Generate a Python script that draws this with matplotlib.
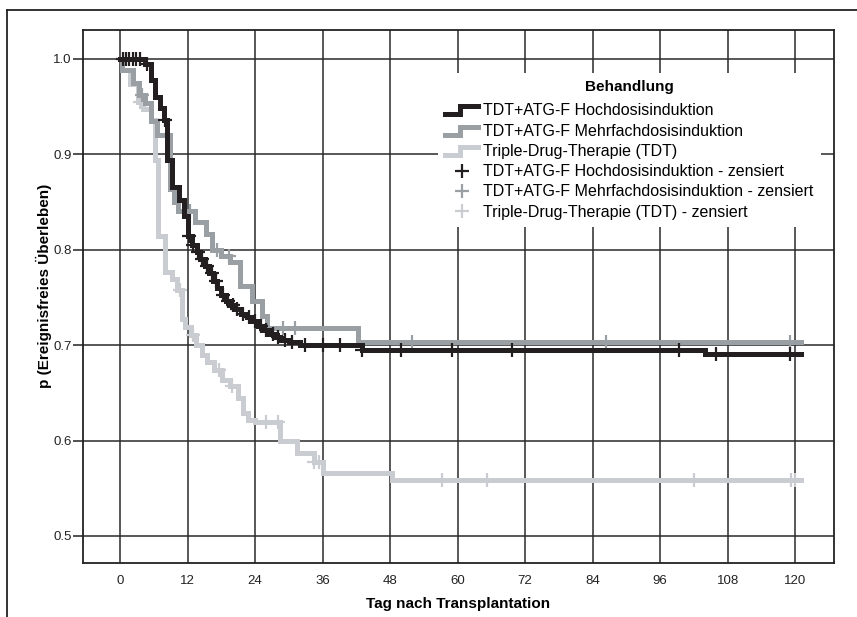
import numpy as np
import matplotlib
matplotlib.use('Agg')
import matplotlib.pyplot as plt
from matplotlib.lines import Line2D
from matplotlib.legend_handler import HandlerBase

plt.rcParams['font.family'] = ['Liberation Sans', 'DejaVu Sans']

# Kaplan-Meier steps (day, survival) per treatment group
hoch_t = [0, 4.5, 5.4, 6.2, 7.0, 7.8, 8.3, 9.3, 10.4, 11.3, 12.0, 12.8, 13.6,
          14.2, 15.0, 15.8, 16.5, 17.2, 18.0, 18.8, 19.6, 20.5, 21.5, 22.5,
          23.5, 24.5, 25.5, 26.5, 27.5, 28.5, 30.0, 32.0, 43.0, 104.0]
hoch_p = [1.0, 0.994, 0.978, 0.96, 0.948, 0.936, 0.894, 0.866, 0.852, 0.835,
          0.814, 0.805, 0.797, 0.79, 0.783, 0.775, 0.767, 0.76, 0.752, 0.746,
          0.742, 0.738, 0.733, 0.729, 0.725, 0.72, 0.716, 0.712, 0.708, 0.705,
          0.703, 0.70, 0.695, 0.691]
hoch_cens = [0.5, 1.0, 1.6, 2.2, 2.8, 3.5, 4.8, 8.0, 12.2, 13.0, 13.8, 14.6,
             15.5, 16.3, 17.1, 18.3, 19.1, 20.0, 20.8, 21.8, 22.9, 24.0, 25.0,
             26.0, 27.2, 28.0, 29.3, 30.5, 32.9, 36.0, 39.0, 43.0, 50.0, 59.0,
             69.7, 99.4, 106.0, 119.0]

mehr_t = [0, 0.3, 2.3, 3.3, 4.4, 5.5, 6.6, 8.8, 9.6, 10.2, 13.3, 15.3, 16.3,
          18.0, 19.5, 21.3, 23.5, 25.2, 26.1, 42.3]
mehr_p = [1.0, 0.988, 0.975, 0.962, 0.954, 0.935, 0.92, 0.863, 0.85, 0.84,
          0.829, 0.816, 0.80, 0.793, 0.787, 0.762, 0.746, 0.73, 0.718, 0.703]
mehr_cens = [3.9, 12.5, 17.2, 19.3, 29.0, 31.1, 51.9, 86.4, 119.0]

tdt_t = [0, 0.3, 1.8, 3.2, 4.1, 5.5, 6.2, 6.8, 8.0, 9.2, 10.1, 11.0, 11.6,
         12.6, 13.5, 14.6, 15.5, 16.6, 18.1, 19.6, 21.0, 21.9, 22.8, 24.0,
         28.4, 31.4, 34.4, 36.1, 48.3]
tdt_p = [1.0, 0.988, 0.973, 0.955, 0.947, 0.936, 0.894, 0.814, 0.777, 0.769,
         0.758, 0.727, 0.719, 0.71, 0.70, 0.69, 0.682, 0.674, 0.663, 0.657,
         0.645, 0.629, 0.622, 0.619, 0.60, 0.587, 0.577, 0.566, 0.559]
tdt_cens = [3.6, 10.7, 13.0, 17.5, 19.8, 26.0, 28.0, 34.4, 35.3, 57.2, 65.2,
            102.0, 119.3, 120.0]

t_end = 121
labels = ['TDT+ATG-F Hochdosisinduktion', 'TDT+ATG-F Mehrfachdosisinduktion',
          'Triple-Drug-Therapie (TDT)']
colors = ['#231f20', '#9a9fa4', '#c9ccd1']

xticks = np.arange(0, 121, 12)
yticks = [0.5, 0.6, 0.7, 0.8, 0.9, 1.0]


def surv_at(t, p, x):
    idx = np.searchsorted(t, x, side='right') - 1
    return np.asarray(p)[idx]


class StepHandler(HandlerBase):
    def create_artists(self, legend, orig, xd, yd, w, h, fontsize, trans):
        xs = [-xd, -xd + 0.45 * w, -xd + 0.45 * w, -xd + w]
        ys = [-yd + 0.1 * h, -yd + 0.1 * h, -yd + 0.8 * h, -yd + 0.8 * h]
        ln = Line2D(xs, ys, color=orig.get_color(), lw=orig.get_linewidth(),
                    solid_joinstyle='miter', transform=trans)
        return [ln]


fig = plt.figure(figsize=(8.57, 6.17), dpi=100)
ax = fig.add_axes([83 / 857, 1 - 563 / 617, 751 / 857, 533 / 617])

groups = [(hoch_t, hoch_p, hoch_cens), (mehr_t, mehr_p, mehr_cens),
          (tdt_t, tdt_p, tdt_cens)]
step_handles = []
cens_handles = []
for i in [2, 1, 0]:
    t, p, cens = groups[i]
    tt = list(t) + [t_end]
    pp = list(p) + [p[-1]]
    ln, = ax.step(tt, pp, where='post', color=colors[i], lw=3.6,
                  solid_joinstyle='miter', zorder=3 + (2 - i))
    cy = surv_at(t, p, cens)
    mk, = ax.plot(cens, cy, ls='none', marker='+', ms=10, mew=1.6,
                  color=colors[i], zorder=3 + (2 - i))
    step_handles.insert(0, ln)
    cens_handles.insert(0, mk)

ax.set_xlim(-6.6, 126.9)
ax.set_ylim(0.4717, 1.030)
ax.set_xticks(xticks)
ax.set_yticks(yticks)
ax.set_yticklabels(['%.1f' % v for v in yticks])
ax.grid(True, color='#2a2a2a', lw=1.1, zorder=1)
ax.set_axisbelow(True)
ax.tick_params(axis='x', length=0, pad=9, labelsize=9.5, colors='#222222')
ax.tick_params(axis='y', length=7, width=1.1, pad=1, labelsize=9.5,
               colors='#222222')
for s in ax.spines.values():
    s.set_linewidth(1.3)
    s.set_color('#222222')

ax.set_xlabel('Tag nach Transplantation', fontsize=11, fontweight='bold',
              labelpad=7)
ax.set_ylabel('p (Ereignisfreies Überleben)', fontsize=11, fontweight='bold')
ax.yaxis.set_label_coords(-0.041, 0.52)

handles = step_handles + cens_handles
leg_labels = labels + [l + ' - zensiert' for l in labels]
hmap = {h: StepHandler() for h in step_handles}
leg = ax.legend(handles, leg_labels, title='Behandlung', loc='upper right',
                bbox_to_anchor=(0.993, 0.934), handler_map=hmap, fontsize=11.5,
                title_fontproperties={'weight': 'bold', 'size': 11},
                frameon=True, fancybox=False, framealpha=1, edgecolor='none',
                facecolor='white', handlelength=2.1, handletextpad=0.3,
                labelspacing=0.33, borderpad=0.45)
leg._legend_box.sep = 6.5
leg.set_zorder(10)

# outer frame of the exported figure
fig.add_artist(Line2D([7 / 857, 7 / 857], [0, 1 - 10 / 617], color='#222222',
                      lw=1.3, transform=fig.transFigure))
fig.add_artist(Line2D([7 / 857, 1], [1 - 10 / 617, 1 - 10 / 617],
                      color='#222222', lw=1.3, transform=fig.transFigure))

fig.savefig('out.png', dpi=100)
